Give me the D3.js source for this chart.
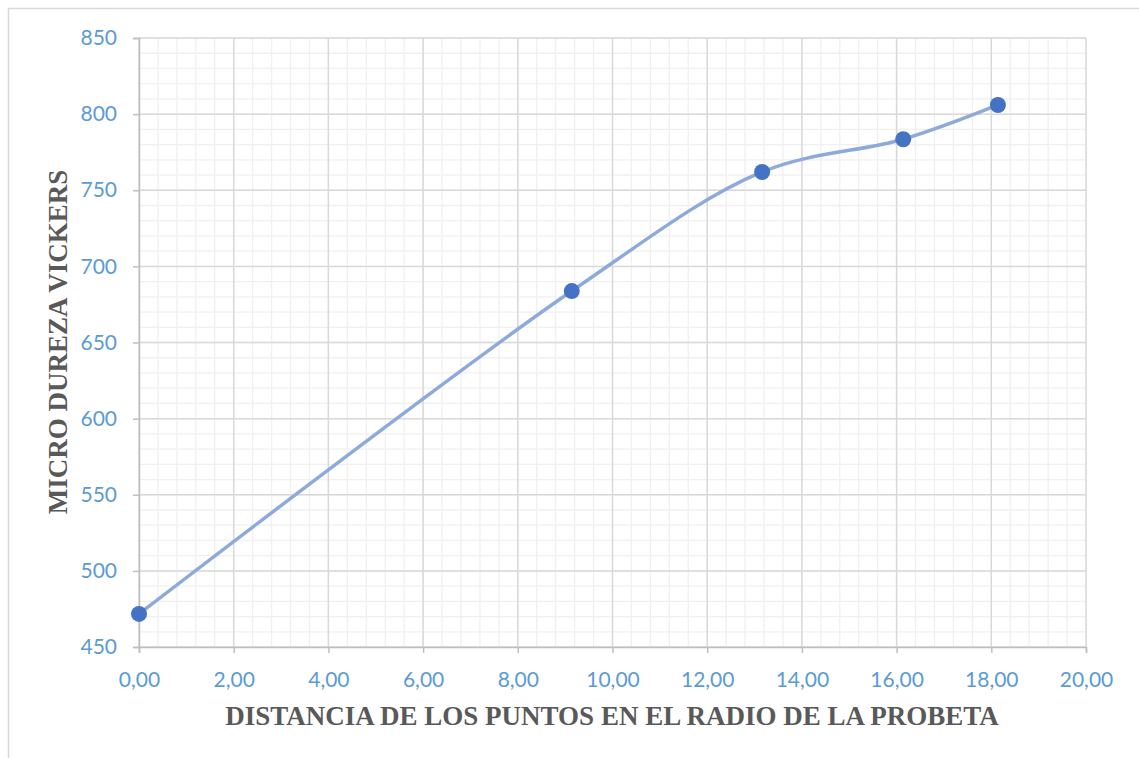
<!DOCTYPE html>
<html><head><meta charset="utf-8">
<script src="https://cdn.jsdelivr.net/npm/d3@7"></script>
<style>body{margin:0;background:#fff;} svg{display:block;}</style>
</head><body>
<svg id="c" width="1139" height="758"></svg>
<script>
const distances = [0.00, 9.14, 13.16, 16.14, 18.14];
const hardness = [471.7, 683.8, 762.0, 783.5, 806.0];
const xTicks = [0,2,4,6,8,10,12,14,16,18,20];
const yTicks = [450,500,550,600,650,700,750,800,850];
const xTitle = "DISTANCIA DE LOS PUNTOS EN EL RADIO DE LA PROBETA";
const yTitle = "MICRO DUREZA VICKERS";

const svg = d3.select("#c");
const L = 139, R = 1086, T = 38, B = 647;
const x = d3.scaleLinear().domain([0,20]).range([L,R]);
const y = d3.scaleLinear().domain([450,850]).range([B,T]);

// outer frame
svg.append("rect").attr("x",8.5).attr("y",8.5).attr("width",1140).attr("height",760)
  .attr("fill","none").attr("stroke","#d9d9d9").attr("stroke-width",1.5);

// minor gridlines
const xMinor = d3.range(0, 20.001, 0.4);
const yMinor = d3.range(450, 850.001, 10);
svg.append("g").selectAll("line").data(xMinor).join("line")
  .attr("x1",d=>x(d)).attr("x2",d=>x(d)).attr("y1",T).attr("y2",B)
  .attr("stroke","#f0f0f0").attr("stroke-width",1.3);
svg.append("g").selectAll("line").data(yMinor).join("line")
  .attr("y1",d=>y(d)).attr("y2",d=>y(d)).attr("x1",L).attr("x2",R)
  .attr("stroke","#f0f0f0").attr("stroke-width",1.3);
// major gridlines
svg.append("g").selectAll("line").data(xTicks).join("line")
  .attr("x1",d=>x(d)).attr("x2",d=>x(d)).attr("y1",T).attr("y2",B)
  .attr("stroke","#d9d9d9").attr("stroke-width",1.5);
svg.append("g").selectAll("line").data(yTicks).join("line")
  .attr("y1",d=>y(d)).attr("y2",d=>y(d)).attr("x1",L).attr("x2",R)
  .attr("stroke","#d9d9d9").attr("stroke-width",1.5);

// axes
const fmt = d => d.toFixed(2).replace(".", ",");
const xAxis = svg.append("g").attr("transform",`translate(0,${B})`)
  .call(d3.axisBottom(x).tickValues(xTicks).tickFormat(fmt).tickSize(6).tickPadding(19));
const yAxis = svg.append("g").attr("transform",`translate(${L},0)`)
  .call(d3.axisLeft(y).tickValues(yTicks).tickFormat(d3.format("d")).tickSize(6).tickPadding(16));
[xAxis,yAxis].forEach(a=>{
  a.select(".domain").attr("stroke","#bfbfbf").attr("stroke-width",1.5);
  a.selectAll(".tick line").attr("stroke","#bfbfbf").attr("stroke-width",1.5);
  a.selectAll("text").attr("fill","#5b9bd5").style("font-family","Lato, 'Open Sans', sans-serif").style("font-size","21px");
});

// line
const line = d3.line().x((d,i)=>x(distances[i])).y(d=>y(d)).curve(d3.curveCatmullRom.alpha(0.5));
svg.append("path").datum(hardness).attr("d",line).attr("fill","none")
  .attr("stroke","#8eaadb").attr("stroke-width",3.5).attr("stroke-linecap","round");
svg.append("g").selectAll("circle").data(hardness).join("circle")
  .attr("cx",(d,i)=>x(distances[i])).attr("cy",d=>y(d)).attr("r",8)
  .attr("fill","#4472c4");

// titles
svg.append("text").attr("x",612).attr("y",725).attr("text-anchor","middle")
  .attr("fill","#595959").style("font-family","'Liberation Serif', 'Times New Roman', serif")
  .style("font-weight","bold").style("font-size","27px").text(xTitle);
svg.append("text").attr("transform","translate(67,342) rotate(-90)").attr("text-anchor","middle")
  .attr("fill","#595959").style("font-family","'Liberation Serif', 'Times New Roman', serif")
  .style("font-weight","bold").style("font-size","27px").text(yTitle);
</script>
</body></html>
